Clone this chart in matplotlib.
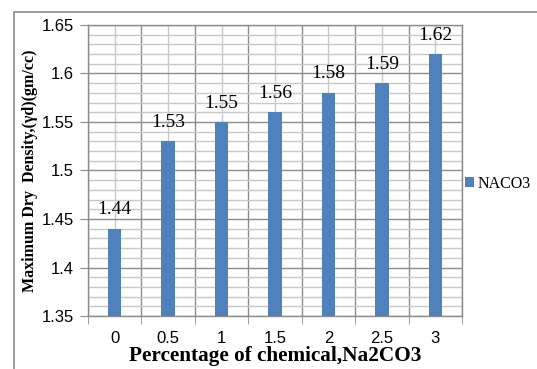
import matplotlib.pyplot as plt
from matplotlib.patches import Rectangle
from matplotlib.ticker import MultipleLocator

categorias = ['0', '0.5', '1', '1.5', '2', '2.5', '3']
densidad = [1.44, 1.53, 1.55, 1.56, 1.58, 1.59, 1.62]
serie = 'NACO3'

azul = '#4F81BD'
gris_oscuro = '#8C8C8C'
gris_claro = '#C8C8C8'

fig = plt.figure(figsize=(5.37, 3.69), dpi=100)
ax = fig.add_axes([88/537, 1 - 316/369, (462 - 88)/537, (316 - 25)/369])

# borde exterior (solo se ven arriba e izquierda)
fig.patches.append(Rectangle((14/537, -0.1), 1.2, 1.1 - 12/369,
                             transform=fig.transFigure, fill=False,
                             edgecolor='#8C8C8C', linewidth=1.2))

pos = list(range(len(categorias)))
barras = ax.bar(pos, [d - 1.35 for d in densidad], bottom=1.35, width=0.25,
                color=azul, label=serie, zorder=3)

for x, d in zip(pos, densidad):
    ax.annotate(f'{d:.2f}', (x, d), xytext=(0, 7.5), textcoords='offset points',
                ha='center', va='bottom', fontsize=14, family='Liberation Serif')

ax.set_ylim(1.35, 1.65)
ax.set_xlim(-0.5, len(categorias) - 0.5)
ax.yaxis.set_major_locator(MultipleLocator(0.05))
ax.yaxis.set_minor_locator(MultipleLocator(0.01))
ax.set_yticks([1.35, 1.4, 1.45, 1.5, 1.55, 1.6, 1.65])
ax.set_yticklabels(['1.35', '1.4', '1.45', '1.5', '1.55', '1.6', '1.65'])
ax.set_xticks(pos)
ax.set_xticklabels(categorias)
ax.set_xticks([p - 0.5 for p in pos] + [len(categorias) - 0.5], minor=True)

for lbl in ax.get_xticklabels() + ax.get_yticklabels():
    lbl.set_family('Liberation Sans')
    lbl.set_fontsize(12)

ax.tick_params(axis='x', which='major', length=0, pad=11)
ax.tick_params(axis='x', which='minor', length=6, color=gris_oscuro, direction='out')
ax.tick_params(axis='y', which='major', length=6, color=gris_oscuro, pad=4)
ax.tick_params(axis='y', which='minor', length=0)

ax.grid(True, axis='y', which='major', color=gris_oscuro, linewidth=1, zorder=1)
ax.grid(True, axis='y', which='minor', color=gris_claro, linewidth=1, zorder=0)
ax.grid(True, axis='x', which='minor', color=gris_oscuro, linewidth=1, zorder=1)
ax.grid(True, axis='x', which='major', color=gris_claro, linewidth=1, zorder=0)
ax.set_axisbelow(True)

for s in ax.spines.values():
    s.set_color(gris_oscuro)
    s.set_linewidth(1)

ax.set_xlabel('Percentage of chemical,Na2CO3', fontsize=15.3, fontweight='bold',
              family='Liberation Serif', labelpad=0)
ax.set_ylabel('Maximum Dry  Density,(γd)(gm/cc)', fontsize=11.5, fontweight='bold',
              family='Liberation Serif', labelpad=3)

ax.legend(loc='center left', bbox_to_anchor=(1.0, 0.455), frameon=False,
          borderaxespad=0, borderpad=0.2,
          prop={'family': 'Liberation Serif', 'size': 11.5},
          handlelength=0.55, handleheight=0.55, handletextpad=0.25)

fig.savefig('out.png', dpi=100)
